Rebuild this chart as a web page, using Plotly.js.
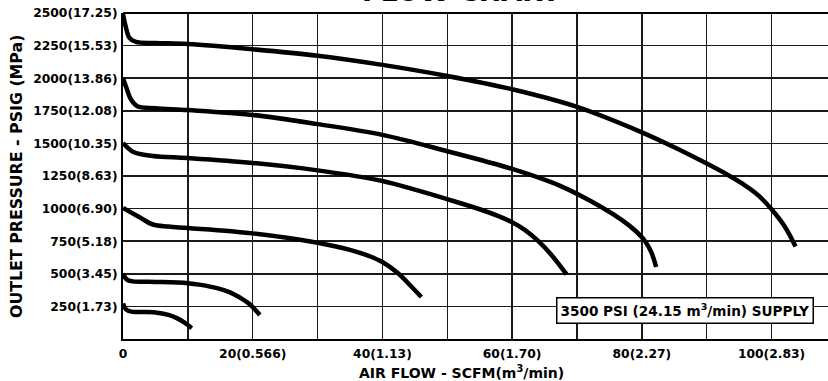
<!DOCTYPE html>
<html>
<head>
<meta charset="utf-8">
<script src="https://cdn.plot.ly/plotly-3.0.1.min.js"></script>
<style>html,body{margin:0;padding:0;background:#fff;}#chart{width:828px;height:381px;}</style>
</head>
<body>
<div id="chart"></div>
<script>
// Flow curves (SCFM vs PSIG)
const curveA_x = [0, 0.4, 1, 2, 5, 10, 20, 30, 40, 50, 60, 70, 80, 85, 90, 93, 96, 98, 100, 102, 103.7];
const curveA_y = [2490, 2400, 2310, 2278, 2270, 2262, 2222, 2172, 2102, 2017, 1915, 1780, 1585, 1470, 1345, 1265, 1175, 1100, 995, 865, 710];
const curveB_x = [0, 0.5, 1.2, 2.2, 5, 10, 20, 30, 40, 50, 60, 67.4, 74, 77, 79, 80.5, 81.5, 82.2];
const curveB_y = [2000, 1930, 1840, 1785, 1770, 1756, 1718, 1648, 1565, 1440, 1304, 1174, 1005, 910, 830, 750, 660, 552];
const curveC_x = [0, 1.6, 4.6, 10, 20, 30, 40, 45, 50, 55, 58, 60, 62, 64, 66, 68.4];
const curveC_y = [1503, 1434, 1404, 1388, 1350, 1293, 1212, 1145, 1072, 995, 940, 895, 835, 752, 648, 495];
const curveD_x = [0, 2.5, 4.6, 7, 10, 20, 30, 35, 38, 40, 42.5, 44.3, 46];
const curveD_y = [1005, 935, 878, 862, 851, 810, 738, 683, 635, 590, 500, 410, 322];
const curveE_x = [0, 0.6, 1.5, 5, 10, 12, 14.5, 16.5, 18, 19.5, 21.1];
const curveE_y = [500, 455, 442, 438, 428, 415, 390, 358, 318, 268, 184];
const curveF_x = [0, 0.5, 1.3, 5, 7, 8.3, 9.5, 10.6];
const curveF_y = [272, 225, 210, 204, 185, 160, 125, 82];

const xTickVals = [0, 10, 20, 30, 40, 50, 60, 70, 80, 90, 100];
const xTickText = ['0', '', '20(0.566)', '', '40(1.13)', '', '60(1.70)', '', '80(2.27)', '', '100(2.83)'];
const yTickVals = [250, 500, 750, 1000, 1250, 1500, 1750, 2000, 2250, 2500];
const yTickText = ['250(1.73)', '500(3.45)', '750(5.18)', '1000(6.90)', '1250(8.63)', '1500(10.35)', '1750(12.08)', '2000(13.86)', '2250(15.53)', '2500(17.25)'];

const titleText = 'FLOW CHART';
const xTitleText = 'AIR FLOW - SCFM(m<sup>3</sup>/min)';
const yTitleText = 'OUTLET PRESSURE - PSIG (MPa)';
const supplyText = '3500 PSI (24.15 m<sup>3</sup>/min) SUPPLY';
const supplyPos = [86.6, 219];

const curves = [[curveA_x, curveA_y], [curveB_x, curveB_y], [curveC_x, curveC_y],
                [curveD_x, curveD_y], [curveE_x, curveE_y], [curveF_x, curveF_y]];

const FONT = 'DejaVu Sans';
const traces = curves.map(c => ({
  x: c[0], y: c[1], type: 'scatter', mode: 'lines',
  line: {color: '#000', width: 4.5, shape: 'spline', smoothing: 1},
  hoverinfo: 'skip', showlegend: false, cliponaxis: false
}));

const layout = {
  width: 828, height: 381,
  margin: {l: 123, r: 0, t: 13, b: 42, pad: 0},
  paper_bgcolor: '#fff', plot_bgcolor: '#fff',
  showlegend: false,
  xaxis: {
    range: [0, 108.7], tickvals: xTickVals, ticktext: xTickText,
    showgrid: true, gridcolor: '#1a1a1a', gridwidth: 1.5,
    zeroline: false, showline: true, linecolor: '#000', linewidth: 2,
    ticks: '', ticklabelstandoff: 2,
    tickfont: {family: FONT, size: 12.3, color: '#000', weight: 'bold'},
    fixedrange: true
  },
  yaxis: {
    range: [0, 2500], tickvals: yTickVals, ticktext: yTickText,
    showgrid: true, gridcolor: '#1a1a1a', gridwidth: 1.5,
    zeroline: false, showline: true, linecolor: '#000', linewidth: 2,
    ticks: '', ticklabelstandoff: 1,
    tickfont: {family: FONT, size: 12.3, color: '#000', weight: 'bold'},
    fixedrange: true
  },
  shapes: [{type: 'line', xref: 'paper', yref: 'paper', x0: 0, x1: 1, y0: 1, y1: 1,
            line: {color: '#000', width: 2}}],
  annotations: [
    {text: titleText, xref: 'paper', yref: 'paper', x: (461 - 123) / 705, y: 1,
     xanchor: 'center', yanchor: 'bottom', yshift: 4, showarrow: false,
     font: {family: FONT, size: 27, color: '#000', weight: 'bold'}},
    {text: xTitleText, xref: 'paper', yref: 'paper', x: (461 - 123) / 705, y: 0,
     xanchor: 'center', yanchor: 'middle', yshift: -33, showarrow: false,
     font: {family: FONT, size: 14, color: '#000', weight: 'bold'}},
    {text: yTitleText, xref: 'paper', yref: 'paper', x: (17 - 123) / 705, y: 0.497,
     xanchor: 'center', yanchor: 'middle', textangle: -90, showarrow: false,
     font: {family: FONT, size: 15.8, color: '#000', weight: 'bold'}},
    {text: supplyText, xref: 'x', yref: 'y', x: supplyPos[0], y: supplyPos[1],
     xanchor: 'center', yanchor: 'middle', showarrow: false,
     bgcolor: '#fff', bordercolor: '#000', borderwidth: 1.5, borderpad: 3,
     font: {family: FONT, size: 13.6, color: '#000', weight: 'bold'}}
  ]
};

Plotly.newPlot('chart', traces, layout, {staticPlot: true, displayModeBar: false});
</script>
</body>
</html>
